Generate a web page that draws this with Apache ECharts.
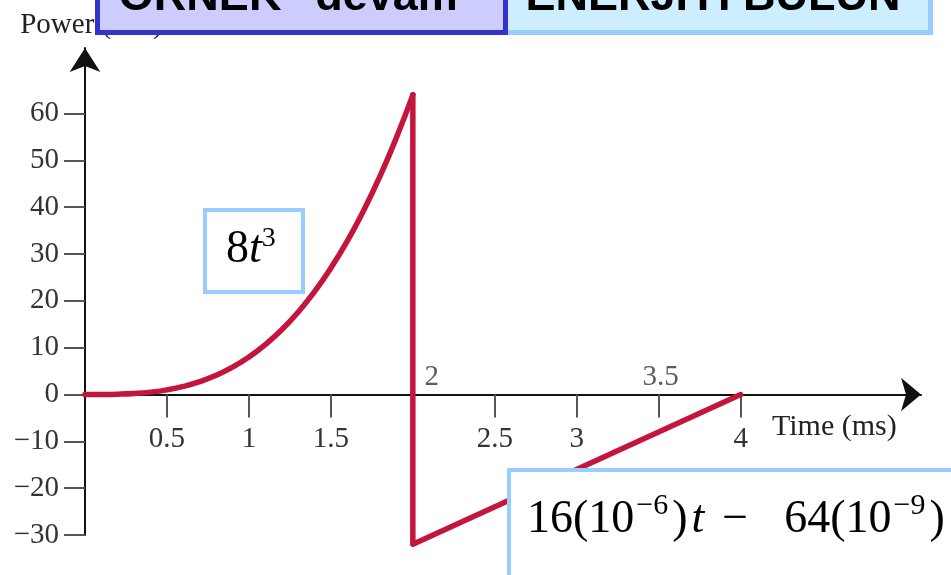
<!DOCTYPE html>
<html>
<head>
<meta charset="utf-8">
<script src="https://cdn.jsdelivr.net/npm/echarts@6/dist/echarts.min.js"></script>
<style>
  html, body { margin: 0; padding: 0; background: #ffffff; }
  #chart { width: 951px; height: 575px; }
</style>
</head>
<body>
<div id="chart"></div>
<script>
// Axis ticks and labels (time in ms, power in nW)
const timeTicks = [0.5, 1, 1.5, 2, 2.5, 3, 3.5, 4];
const timeLabelsBelow = [0.5, 1, 1.5, 2.5, 3, 4];
const timeLabelsAbove = [2, 3.5];
const powerTicks = [-30, -20, -10, 0, 10, 20, 30, 40, 50, 60];

// Rising part of the power curve, 0 to 2 ms
const riseTime = [0, 0.1, 0.2, 0.3, 0.4, 0.5, 0.6, 0.7, 0.8, 0.9, 1.0,
                  1.1, 1.2, 1.3, 1.4, 1.5, 1.6, 1.7, 1.8, 1.9, 2.0];
const risePower = [0, 0.008, 0.064, 0.216, 0.512, 1, 1.728, 2.744, 4.096, 5.832, 8,
                   10.648, 13.824, 17.576, 21.952, 27, 32.768, 39.304, 46.656, 54.872, 64];

// Drop at 2 ms and linear ramp back to zero at 4 ms
const rampTime = [2, 2, 4];
const rampPower = [64, -32, 0];

const RED = '#c4163c';
const SERIF = "'Liberation Serif', 'Times New Roman', serif";
const SANS = "'Liberation Sans', Arial, sans-serif";

const chart = echarts.init(document.getElementById('chart'), null, { renderer: 'canvas' });

const yMin = -30, yMax = 74;
const xMax = 5.1;
const gridTop = 48, gridBottom = 40, gridLeft = 85, gridWidth = 836;
const gridHeight = 575 - gridTop - gridBottom;
// the time axis runs through power = 0
const timeAxisOffset = -(0 - yMin) / (yMax - yMin) * gridHeight;

chart.setOption({
  animation: false,
  backgroundColor: '#ffffff',
  grid: {
    left: gridLeft, top: gridTop, bottom: gridBottom,
    right: 951 - gridLeft - gridWidth,
    containLabel: false,
    outerBoundsMode: 'none'
  },
  xAxis: {
    type: 'value',
    position: 'bottom',
    offset: timeAxisOffset,
    min: 0,
    max: xMax,
    name: 'Time (ms)',
    nameLocation: 'end',
    nameGap: -149,
    nameMoveOverlap: false,
    nameTextStyle: {
      fontFamily: SERIF, fontSize: 30, color: '#222',
      align: 'left', verticalAlign: 'top', padding: [18, 0, 0, 0]
    },
    splitLine: { show: false },
    axisLine: {
      show: true, onZero: false,
      symbol: ['none', 'arrow'], symbolSize: [25, 20],
      lineStyle: { color: '#111', width: 2 }
    },
    axisTick: {
      show: true, length: 23, inside: false,
      customValues: timeTicks,
      lineStyle: { color: '#555', width: 2 }
    },
    axisLabel: {
      show: true, margin: 30,
      customValues: timeLabelsBelow,
      fontFamily: SERIF, fontSize: 29, color: '#333',
      formatter: v => String(v)
    }
  },
  yAxis: {
    type: 'value',
    min: yMin,
    max: yMax,
    name: 'Power (nW)',
    nameLocation: 'end',
    nameGap: 8,
    nameMoveOverlap: false,
    nameTextStyle: {
      fontFamily: SERIF, fontSize: 29, color: '#222',
      align: 'center', padding: [0, 0, 0, 13]
    },
    splitLine: { show: false },
    axisLine: {
      show: true, onZero: false,
      symbol: ['none', 'arrow'], symbolSize: [23, 24],
      lineStyle: { color: '#111', width: 2 }
    },
    axisTick: {
      show: true, length: 21, inside: false,
      customValues: powerTicks,
      lineStyle: { color: '#555', width: 2 }
    },
    axisLabel: {
      show: true, margin: 26,
      customValues: powerTicks,
      fontFamily: SERIF, fontSize: 29, color: '#333',
      formatter: v => (v < 0 ? '\u2212' + Math.abs(v) : String(v))
    }
  },
  series: [
    {
      type: 'line',
      name: 'rise',
      data: riseTime.map((t, i) => [t, risePower[i]]),
      smooth: true,
      showSymbol: false,
      clip: false,
      lineStyle: { color: RED, width: 5.5, cap: 'round', join: 'round' },
      z: 5
    },
    {
      type: 'line',
      name: 'ramp',
      data: rampTime.map((t, i) => [t, rampPower[i]]),
      smooth: false,
      showSymbol: false,
      clip: false,
      lineStyle: { color: RED, width: 5.5, cap: 'round', join: 'round' },
      z: 5
    },
    {
      // tick labels that sit above the time axis
      type: 'scatter',
      name: 'upper labels',
      symbolSize: 1,
      itemStyle: { color: 'rgba(0,0,0,0)' },
      silent: true,
      data: timeLabelsAbove.map(t => ({
        value: [t, 0],
        label: { offset: t === 2 ? [19, 0] : [2, 0] }
      })),
      label: {
        show: true, position: 'top', distance: 2,
        fontFamily: SERIF, fontSize: 29, color: '#333',
        formatter: p => String(p.value[0])
      },
      z: 6
    }
  ],
  graphic: [
    // heading boxes across the top
    {
      type: 'rect', z: 100,
      shape: { x: 490, y: -10, width: 440.5, height: 42.5 },
      style: { fill: '#cceeff', stroke: '#99ccff', lineWidth: 5 }
    },
    {
      type: 'text', z: 101,
      x: 713, y: -2.6,
      style: {
        text: 'ENERJİYİ BULUN',
        font: "bold 45px " + SANS,
        fill: '#000', align: 'center', verticalAlign: 'middle'
      }
    },
    {
      type: 'rect', z: 102,
      shape: { x: 97.5, y: -10, width: 408, height: 42.5 },
      style: { fill: '#ccccff', stroke: '#3333cc', lineWidth: 5 }
    },
    {
      type: 'text', z: 103,
      x: 299, y: -2.6,
      style: {
        text: 'ÖRNEK "devam"',
        font: "bold 45px " + SANS,
        fill: '#000', align: 'center', verticalAlign: 'middle'
      }
    },
    // formula for the rising part
    {
      type: 'rect', z: 100,
      shape: { x: 205, y: 210, width: 98, height: 82 },
      style: { fill: '#ffffff', stroke: '#99ccff', lineWidth: 4 }
    },
    {
      type: 'text', z: 101,
      x: 226, y: 225,
      style: {
        text: '{n|8}{i|t}{s|3}',
        align: 'left', verticalAlign: 'top',
        fill: '#000',
        rich: {
          n: { fontFamily: SERIF, fontSize: 46, lineHeight: 50, color: '#000' },
          i: { fontFamily: SERIF, fontSize: 46, lineHeight: 50, fontStyle: 'italic', color: '#000' },
          s: { fontFamily: SERIF, fontSize: 28, lineHeight: 30, verticalAlign: 'top', color: '#000' }
        }
      }
    },
    // formula for the ramp
    {
      type: 'rect', z: 100,
      shape: { x: 509, y: 470, width: 470, height: 130 },
      style: { fill: '#ffffff', stroke: '#99ccff', lineWidth: 4 }
    },
    {
      type: 'text', z: 101,
      x: 527, y: 491.5,
      style: {
        text: '{n|16(10}{s|\u22126}{n|)}{i|t}{m|\u2212}{n|64(10}{s|\u22129}{n|)}',
        align: 'left', verticalAlign: 'top',
        fill: '#000',
        rich: {
          n: { fontFamily: SERIF, fontSize: 46, lineHeight: 56, color: '#000' },
          i: { fontFamily: SERIF, fontSize: 46, lineHeight: 56, fontStyle: 'italic', color: '#000', padding: [0, 0, 0, 4] },
          m: { fontFamily: SERIF, fontSize: 46, lineHeight: 56, color: '#000', padding: [0, 36, 0, 18] },
          s: { fontFamily: SERIF, fontSize: 30, lineHeight: 30, verticalAlign: 'top', color: '#000', padding: [0, 4, 0, 2] }
        }
      }
    }
  ]
});
</script>
</body>
</html>
